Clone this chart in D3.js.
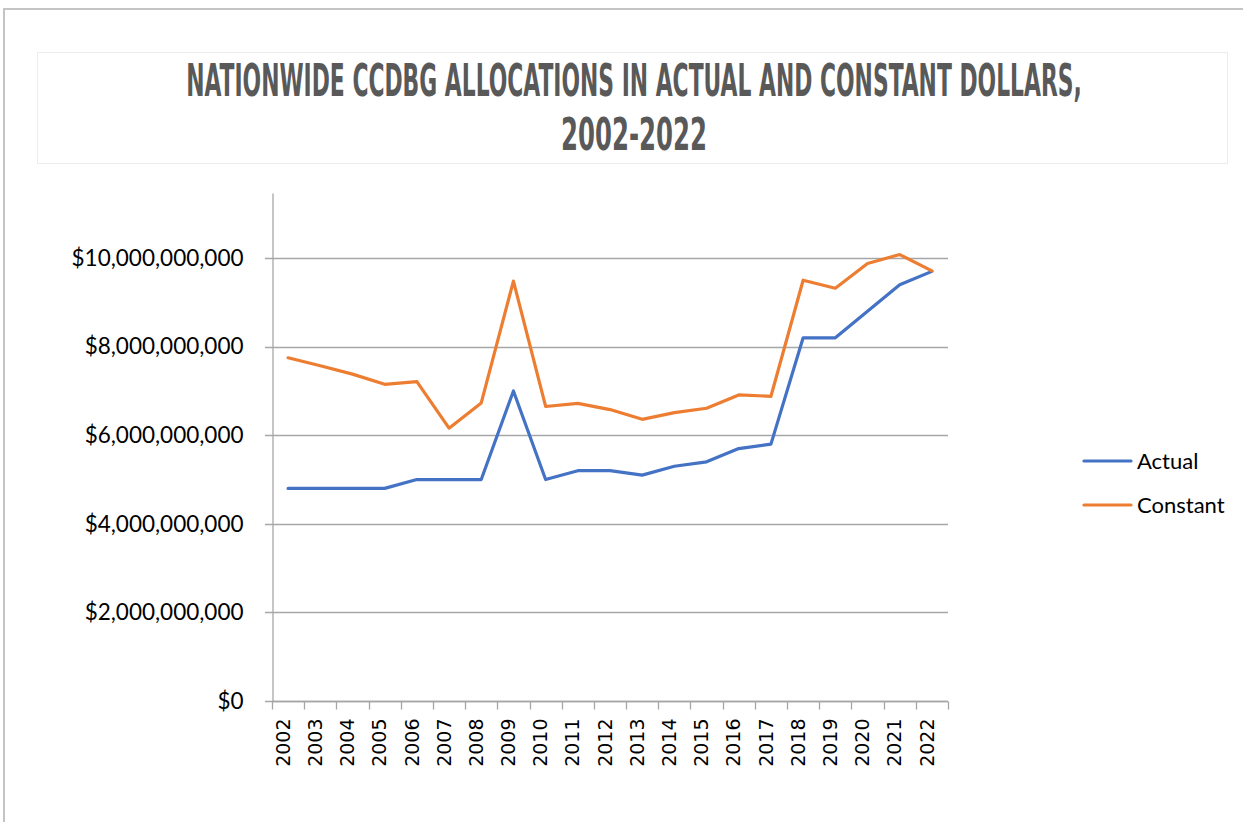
<!DOCTYPE html>
<html>
<head>
<meta charset="utf-8">
<script src="https://cdn.jsdelivr.net/npm/d3@7.9.0/dist/d3.min.js"></script>
<style>
  body { margin: 0; background: #fff; }
  svg { display: block; }
</style>
</head>
<body>
<svg id="chart" width="1243" height="822"></svg>
<script>
const years = ['2002', '2003', '2004', '2005', '2006', '2007', '2008', '2009', '2010', '2011', '2012',
  '2013', '2014', '2015', '2016', '2017', '2018', '2019', '2020', '2021', '2022'];
const actual = [4.8e9, 4.8e9, 4.8e9, 4.8e9, 5.0e9, 5.0e9, 5.0e9, 7.0e9, 5.0e9, 5.2e9, 5.2e9,
  5.1e9, 5.3e9, 5.4e9, 5.7e9, 5.8e9, 8.2e9, 8.2e9, 8.8e9, 9.4e9, 9.7e9];
const constant = [7.75e9, 7.57e9, 7.38e9, 7.15e9, 7.21e9, 6.16e9, 6.73e9, 9.48e9, 6.65e9, 6.72e9, 6.58e9,
  6.36e9, 6.51e9, 6.61e9, 6.91e9, 6.88e9, 9.50e9, 9.32e9, 9.88e9, 10.08e9, 9.71e9];
const yTicks = [0, 2e9, 4e9, 6e9, 8e9, 10e9];
const seriesNames = ['Actual', 'Constant'];
const seriesColors = ['#4472C4', '#ED7D31'];
const titleLines = ['NATIONWIDE CCDBG ALLOCATIONS IN ACTUAL AND CONSTANT DOLLARS,', '2002-2022'];

const svg = d3.select('#chart');

// outer frame and title box
svg.append('path')
  .attr('d', 'M4,830 L4,9 L1250,9')
  .attr('fill', 'none')
  .attr('stroke', '#c4c4c4')
  .attr('stroke-width', 2);
svg.append('rect')
  .attr('x', 37.5).attr('y', 52.5).attr('width', 1190).attr('height', 111)
  .attr('fill', '#fff').attr('stroke', '#ececec');

// condensed title: squeeze each line horizontally to the reference width
const titleWidths = [896, 146];
const titleBase = [96, 150];
titleLines.forEach((txt, i) => {
  const t = svg.append('text')
    .attr('fill', '#595959')
    .attr('font-family', 'DejaVu Sans Condensed, DejaVu Sans')
    .attr('font-weight', 'bold')
    .attr('font-size', 44)
    .attr('text-anchor', 'middle')
    .text(txt);
  const w = t.node().getComputedTextLength();
  t.attr('transform', `translate(634,${titleBase[i]}) scale(${titleWidths[i] / w},1)`);
});

const left = 272, right = 948, bottom = 701;
const x = d3.scaleBand().domain(years).range([left, right]);
const y = d3.scaleLinear().domain([0, 11.47e9]).range([bottom, 193]);

// gridlines
svg.append('g')
  .selectAll('line')
  .data(yTicks)
  .join('line')
  .attr('x1', left - 7).attr('x2', right)
  .attr('y1', (d) => Math.round(y(d)) + 0.5)
  .attr('y2', (d) => Math.round(y(d)) + 0.5)
  .attr('stroke', '#a6a6a6')
  .attr('stroke-width', 1.3);

// y axis
const yAxis = svg.append('g')
  .attr('transform', `translate(${left + 0.5},0)`)
  .call(d3.axisLeft(y).tickValues(yTicks).tickSize(0).tickPadding(29)
    .tickFormat((d) => d3.format('$,')(d)));
yAxis.select('.domain').attr('stroke', '#a6a6a6').attr('stroke-width', 1.3);
yAxis.selectAll('text')
  .attr('font-family', 'Lato, sans-serif')
  .attr('font-size', 22.5)
  .attr('fill', '#000');

// x axis with ticks between categories
const xAxis = svg.append('g').attr('transform', `translate(0,${bottom + 0.5})`);
xAxis.append('line')
  .attr('x1', left).attr('x2', right)
  .attr('stroke', '#a6a6a6').attr('stroke-width', 1.3);
xAxis.selectAll('.tick')
  .data(years.concat(['end']))
  .join('line')
  .attr('class', 'tick')
  .attr('x1', (d, i) => Math.round(left + i * x.step()) + 0.5)
  .attr('x2', (d, i) => Math.round(left + i * x.step()) + 0.5)
  .attr('y1', 0).attr('y2', 8)
  .attr('stroke', '#a6a6a6').attr('stroke-width', 1.3);
xAxis.selectAll('text')
  .data(years)
  .join('text')
  .attr('transform', (d) => `translate(${x(d) + x.bandwidth() / 2 - 5},17) rotate(-90)`)
  .attr('text-anchor', 'end')
  .attr('dy', '0.35em')
  .attr('font-family', 'DejaVu Sans, sans-serif')
  .attr('font-size', 19)
  .attr('fill', '#000')
  .text((d) => d);

// lines
const line = d3.line()
  .x((d, i) => x(years[i]) + x.bandwidth() / 2)
  .y((d) => y(d));
[actual, constant].forEach((vals, i) => {
  svg.append('path')
    .datum(vals)
    .attr('d', line)
    .attr('fill', 'none')
    .attr('stroke', seriesColors[i])
    .attr('stroke-width', 3.2)
    .attr('stroke-linejoin', 'round')
    .attr('stroke-linecap', 'round');
});

// legend
const legend = svg.append('g');
seriesNames.forEach((name, i) => {
  const ly = 461 + i * 44;
  legend.append('line')
    .attr('x1', 1084).attr('x2', 1131)
    .attr('y1', ly).attr('y2', ly)
    .attr('stroke', seriesColors[i])
    .attr('stroke-width', 3.2)
    .attr('stroke-linecap', 'round');
  legend.append('text')
    .attr('x', 1137).attr('y', ly)
    .attr('dy', '0.35em')
    .attr('font-family', 'Lato, sans-serif')
    .attr('font-size', 22)
    .attr('fill', '#000')
    .text(name);
});
</script>
</body>
</html>
